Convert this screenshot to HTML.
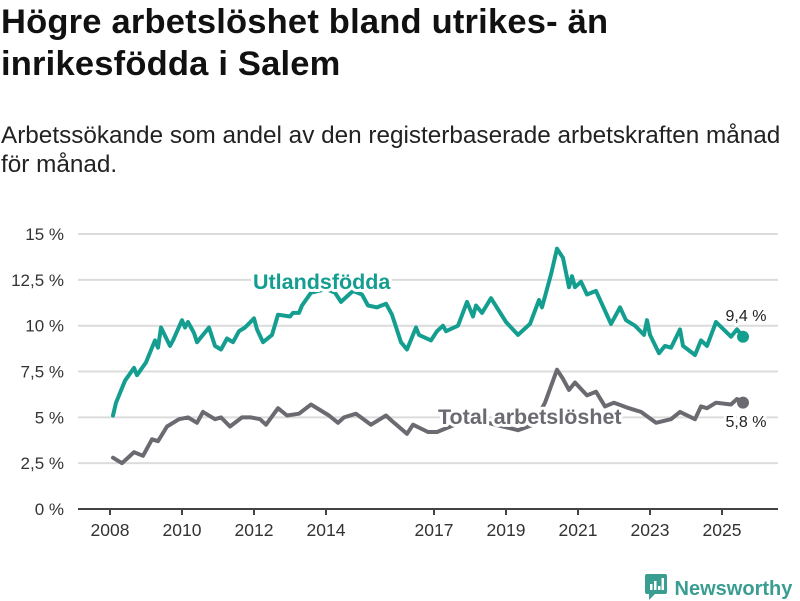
<!DOCTYPE html>
<html><head><meta charset="utf-8">
<style>
html,body{margin:0;padding:0;background:#fff;}
body{width:800px;height:600px;position:relative;overflow:hidden;font-family:"Liberation Sans",sans-serif;color:#111;}
h1{position:absolute;left:1px;top:1px;margin:0;font-size:34.5px;line-height:42px;font-weight:bold;letter-spacing:0.2px;white-space:nowrap;}
.sub{position:absolute;left:1px;top:121px;margin:0;font-size:24.3px;line-height:29px;color:#222;white-space:nowrap;}
svg{position:absolute;left:0;top:0;}
.logo{position:absolute;left:645px;top:569px;font-size:20px;color:#3a9d92;font-weight:bold;}
</style></head><body>
<h1>Högre arbetslöshet bland utrikes- än<br>inrikesfödda i Salem</h1>
<p class="sub">Arbetssökande som andel av den registerbaserade arbetskraften månad<br>för månad.</p>
<svg id="chart" width="800" height="600"></svg>
<div class="logo"><svg width="24" height="26" style="position:relative;left:0;top:5px;display:inline-block"><rect x="0" y="0" width="22" height="20" rx="2" fill="#3a9d92"/><polygon points="4,20 10,20 4,26" fill="#3a9d92"/><rect x="5" y="10" width="2.5" height="6" fill="#fff"/><rect x="9" y="7" width="2.5" height="9" fill="#fff"/><rect x="13" y="12" width="2.5" height="4" fill="#fff"/><rect x="16.5" y="4" width="2.5" height="12" fill="#fff"/></svg> Newsworthy</div>
<script>
const foreignMonths=[1,2,5,8,9,12,15,16,17,20,21,24,25,26,28,29,33,35,37,39,41,43,45,48,49,51,54,56,60,61,63,64,67,72,75,77,81,84,86,89,92,94,97,99,102,103,107,109,111,112,116,119,121,122,124,127,132,136,140,143,144,147,149,151,153,154,155,157,159,162,167,170,172,175,178,179,180,183,185,187,190,191,195,197,199,202,207,209,211];
const foreignValues=[5.1,5.8,7.0,7.7,7.3,8.0,9.2,8.8,9.9,8.9,9.2,10.3,9.9,10.2,9.6,9.1,9.9,8.9,8.7,9.3,9.1,9.7,9.9,10.4,9.8,9.1,9.5,10.6,10.5,10.7,10.7,11.1,11.8,12.0,11.8,11.3,11.9,11.7,11.1,11.0,11.2,10.6,9.1,8.7,9.9,9.5,9.2,9.7,10.0,9.7,10.0,11.3,10.5,11.1,10.7,11.5,10.2,9.5,10.1,11.4,11.0,12.8,14.2,13.7,12.1,12.7,12.1,12.4,11.7,11.9,10.1,11.0,10.3,10.0,9.5,10.3,9.5,8.5,8.9,8.8,9.8,8.9,8.4,9.2,8.9,10.2,9.4,9.8,9.4];
const totalMonths=[1,4,8,11,14,16,19,23,26,29,31,35,37,40,44,47,50,52,56,59,63,67,70,73,76,78,82,87,92,94,99,101,106,109,115,120,126,131,136,141,145,149,151,153,155,159,162,165,168,173,177,182,187,190,195,197,199,202,207,209,211];
const totalValues=[2.8,2.5,3.1,2.9,3.8,3.7,4.5,4.9,5.0,4.7,5.3,4.9,5.0,4.5,5.0,5.0,4.9,4.6,5.5,5.1,5.2,5.7,5.4,5.1,4.7,5.0,5.2,4.6,5.1,4.8,4.1,4.6,4.2,4.2,4.6,4.8,4.7,4.5,4.3,4.6,5.8,7.6,7.1,6.5,6.9,6.2,6.4,5.6,5.8,5.5,5.3,4.7,4.9,5.3,4.9,5.6,5.5,5.8,5.7,6.0,5.8];
const yTicks=[0,2.5,5,7.5,10,12.5,15];
const yTickLabels=["0 %","2,5 %","5 %","7,5 %","10 %","12,5 %","15 %"];
const xTickYears=[2008,2010,2012,2014,2017,2019,2021,2023,2025];
const foreignLast="9,4 %";
const totalLast="5,8 %";

const NS="http://www.w3.org/2000/svg";
const svg=document.getElementById('chart');
const X0=110,PXM=3.0;
function xs(m){return X0+m*PXM;}
function ys(v){return 509-v*18.33;}
function mk(tag,attrs,parent){const e=document.createElementNS(NS,tag);for(const k in attrs)e.setAttribute(k,attrs[k]);(parent||svg).appendChild(e);return e;}

const grid=mk('g',{});


yTicks.forEach((t,i)=>{
  if(t>0){const l=mk('line',{x1:78,x2:778,y1:ys(t),y2:ys(t),stroke:'#dcdcdc','stroke-width':2},grid);
  
  }
  const tx=mk('text',{x:64,y:ys(t)+6,'text-anchor':'end','font-size':17,fill:'#333','font-family':'Liberation Sans, sans-serif'});
  tx.textContent=yTickLabels[i];
  
  
});
const ax=mk('line',{x1:78,x2:778,y1:509,y2:509,stroke:'#444','stroke-width':2});


xTickYears.forEach(yr=>{
  const x=xs((yr-2008)*12);
  const t=mk('line',{x1:x,x2:x,y1:509,y2:515,stroke:'#444','stroke-width':2});
  
  
  const tx=mk('text',{x:x,y:536,'text-anchor':'middle','font-size':17.5,fill:'#333','font-family':'Liberation Sans, sans-serif'});
  tx.textContent=yr;
  
  
});
function series(ms,vs,color,name){
  const d=ms.map((m,i)=>(i?'L':'M')+xs(m).toFixed(1)+','+ys(vs[i]).toFixed(1)).join('');
  const p=mk('path',{d:d,fill:'none',stroke:color,'stroke-width':4,'stroke-linejoin':'round','stroke-linecap':'round'});
  
  
  const n=ms.length-1;
  const c=mk('circle',{cx:xs(ms[n]),cy:ys(vs[n]),r:6,fill:color});
  
  
}
series(totalMonths,totalValues,'#6b6a70','total');
series(foreignMonths,foreignValues,'#149e90','foreign');
function label(txt,x,y,color,size,weight,name,anchor){
  const t=mk('text',{x:x,y:y,fill:color,'font-size':size,'font-weight':weight,'text-anchor':anchor||'start',stroke:'#fff','stroke-width':6,'paint-order':'stroke','stroke-linejoin':'round','font-family':'Liberation Sans, sans-serif'});
  t.textContent=txt;
  
  
}
label('Utlandsfödda',253,289,'#149e90',21.5,'bold','foreign-series-label');
label('Total arbetslöshet',438,424,'#6b6a70',21.5,'bold','total-series-label');
label(foreignLast,746,321,'#222',16,'normal','foreign-last-value','middle');
label(totalLast,746,427,'#222',16,'normal','total-last-value','middle');
</script>
</body></html>
